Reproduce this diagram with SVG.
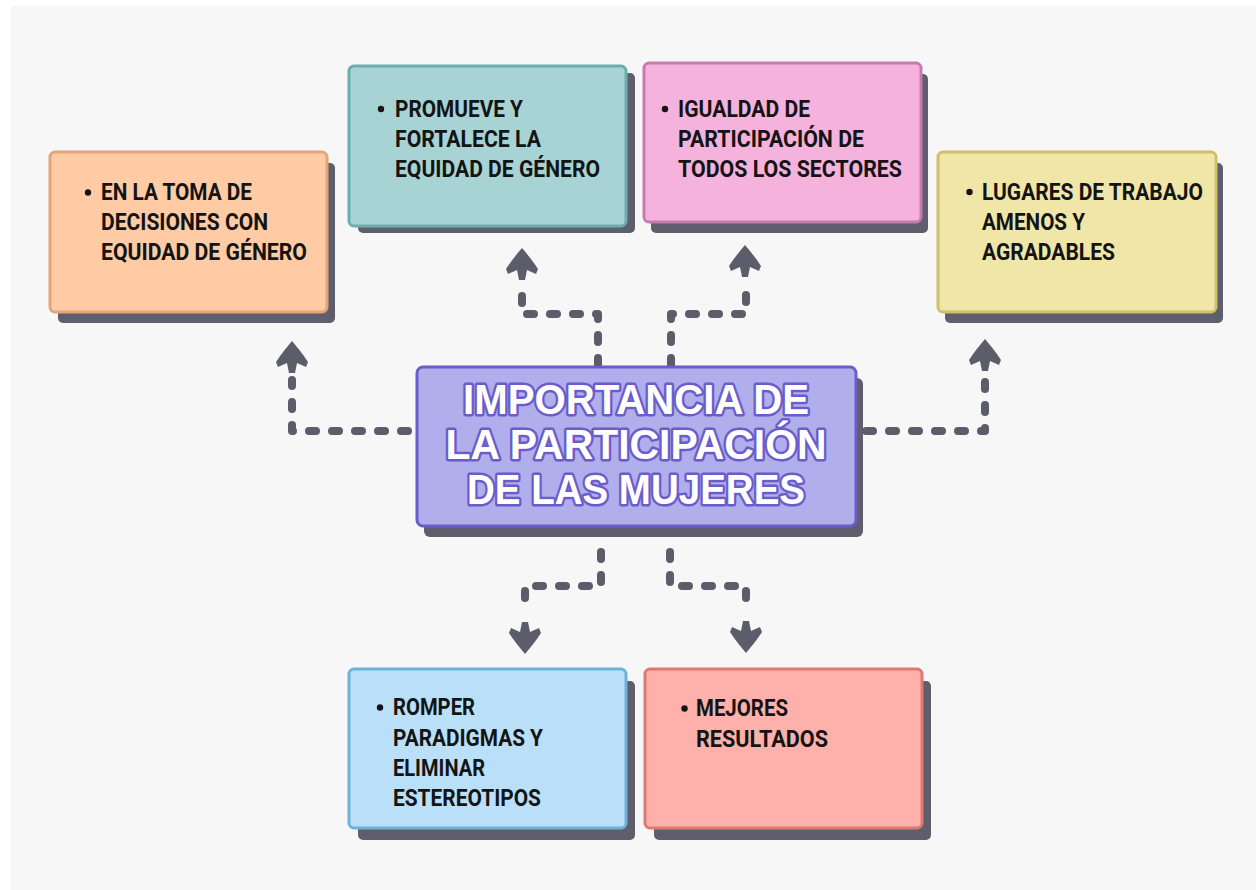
<svg xmlns="http://www.w3.org/2000/svg" width="1256" height="890" viewBox="0 0 1256 890">
<defs>
<style>
.shadow{fill:#5f5e6c}
.box{stroke-width:3}
.t{font-family:Roboto,"Liberation Sans",sans-serif;font-weight:700;font-size:23px;fill:#141414}
.bul{fill:#141414}
.title{font-family:"Liberation Sans",Arial,sans-serif;font-weight:900;font-size:42px;fill:#ffffff;stroke:#6a5ccb;stroke-width:5;stroke-linejoin:round;paint-order:stroke fill;text-anchor:middle}
.dash{fill:none;stroke:#5d5c6b;stroke-width:8;stroke-linecap:round;stroke-linejoin:round;stroke-dasharray:7 16}
.head{fill:#5d5c6b}
</style>
<path id="ah" d="M0,0 C5,6 11,13 16,21 L14,26 L5,22 L3,32 L-3,32 L-5,22 L-14,26 L-16,21 C-11,13 -5,6 0,0 Z"/>
</defs>
<rect x="0" y="0" width="1256" height="890" fill="#ffffff"/>
<rect x="11" y="6" width="1245" height="884" fill="#f7f7f7"/>

<g id="connectors">
<path class="dash" d="M408,431 H292 V380"/>
<use href="#ah" class="head" transform="translate(292,341)"/>
<path class="dash" d="M598,365 V314 H522 V294"/>
<use href="#ah" class="head" transform="translate(522,248)"/>
<path class="dash" d="M671,365 V314 H746 V294"/>
<use href="#ah" class="head" transform="translate(745,245)"/>
<path class="dash" d="M866,431 H985 V380"/>
<use href="#ah" class="head" transform="translate(985,339)"/>
<path class="dash" d="M601,552 V586 H525 V606"/>
<use href="#ah" class="head" transform="translate(525,654) rotate(180)"/>
<path class="dash" d="M670,552 V586 H746 V606"/>
<use href="#ah" class="head" transform="translate(746,653) rotate(180)"/>
</g>

<g id="node-center">
<rect class="shadow" x="424" y="378" width="439" height="159" rx="6"/>
<rect class="box" x="417" y="367" width="439" height="159" rx="6" fill="#b0aeeb" stroke="#6a5ccb"/>
<text class="title" x="636" y="414" textLength="346" lengthAdjust="spacingAndGlyphs">IMPORTANCIA DE</text>
<text class="title" x="636" y="459" textLength="381" lengthAdjust="spacingAndGlyphs">LA PARTICIPACIÓN</text>
<text class="title" x="636" y="504" textLength="338" lengthAdjust="spacingAndGlyphs">DE LAS MUJERES</text>
</g>

<g id="node-orange">
<rect class="shadow" x="58" y="163" width="277" height="160" rx="5"/>
<rect class="box" x="50" y="152" width="277" height="160" rx="5" fill="#fecba5" stroke="#e3a47a"/>
<circle class="bul" cx="88" cy="192.5" r="3.2"/>
<text class="t" x="101" y="200" textLength="151" lengthAdjust="spacingAndGlyphs">EN LA TOMA DE</text>
<text class="t" x="101" y="230" textLength="167" lengthAdjust="spacingAndGlyphs">DECISIONES CON</text>
<text class="t" x="101" y="260" textLength="206" lengthAdjust="spacingAndGlyphs">EQUIDAD DE GÉNERO</text>
</g>

<g id="node-teal">
<rect class="shadow" x="358" y="73" width="277" height="160" rx="5"/>
<rect class="box" x="349" y="66" width="277" height="160" rx="5" fill="#a8d3d5" stroke="#6aaeb0"/>
<circle class="bul" cx="381" cy="109" r="3.2"/>
<text class="t" x="395" y="116.5" textLength="128" lengthAdjust="spacingAndGlyphs">PROMUEVE Y</text>
<text class="t" x="395" y="146.5" textLength="146" lengthAdjust="spacingAndGlyphs">FORTALECE LA</text>
<text class="t" x="395" y="176.5" textLength="205" lengthAdjust="spacingAndGlyphs">EQUIDAD DE GÉNERO</text>
</g>

<g id="node-pink">
<rect class="shadow" x="651" y="74" width="277" height="159" rx="5"/>
<rect class="box" x="644" y="63" width="277" height="159" rx="5" fill="#f4b2dc" stroke="#c77aae"/>
<circle class="bul" cx="665" cy="109" r="3.2"/>
<text class="t" x="678" y="116.5" textLength="132" lengthAdjust="spacingAndGlyphs">IGUALDAD DE</text>
<text class="t" x="678" y="146.5" textLength="186" lengthAdjust="spacingAndGlyphs">PARTICIPACIÓN DE</text>
<text class="t" x="678" y="176.5" textLength="224" lengthAdjust="spacingAndGlyphs">TODOS LOS SECTORES</text>
</g>

<g id="node-yellow">
<rect class="shadow" x="945" y="163" width="278" height="160" rx="5"/>
<rect class="box" x="938" y="152" width="278" height="160" rx="5" fill="#f0e6a8" stroke="#cfc06c"/>
<circle class="bul" cx="969.5" cy="192" r="3.2"/>
<text class="t" x="982" y="199.5" textLength="221" lengthAdjust="spacingAndGlyphs">LUGARES DE TRABAJO</text>
<text class="t" x="982" y="229.5" textLength="103" lengthAdjust="spacingAndGlyphs">AMENOS Y</text>
<text class="t" x="982" y="259.5" textLength="133" lengthAdjust="spacingAndGlyphs">AGRADABLES</text>
</g>

<g id="node-blue">
<rect class="shadow" x="358" y="681" width="277" height="159" rx="5"/>
<rect class="box" x="349" y="669" width="277" height="159" rx="5" fill="#b9e0f8" stroke="#6fb2d9"/>
<circle class="bul" cx="380" cy="707.5" r="3.2"/>
<text class="t" x="393" y="715" textLength="82" lengthAdjust="spacingAndGlyphs">ROMPER</text>
<text class="t" x="393" y="746" textLength="150" lengthAdjust="spacingAndGlyphs">PARADIGMAS Y</text>
<text class="t" x="393" y="776" textLength="92" lengthAdjust="spacingAndGlyphs">ELIMINAR</text>
<text class="t" x="393" y="806" textLength="148" lengthAdjust="spacingAndGlyphs">ESTEREOTIPOS</text>
</g>

<g id="node-salmon">
<rect class="shadow" x="654" y="681" width="277" height="159" rx="5"/>
<rect class="box" x="645" y="669" width="277" height="159" rx="5" fill="#feb1ab" stroke="#dc7a72"/>
<circle class="bul" cx="684.5" cy="708.5" r="3.2"/>
<text class="t" x="696" y="716" textLength="92" lengthAdjust="spacingAndGlyphs">MEJORES</text>
<text class="t" x="696" y="747" textLength="132" lengthAdjust="spacingAndGlyphs">RESULTADOS</text>
</g>
</svg>
